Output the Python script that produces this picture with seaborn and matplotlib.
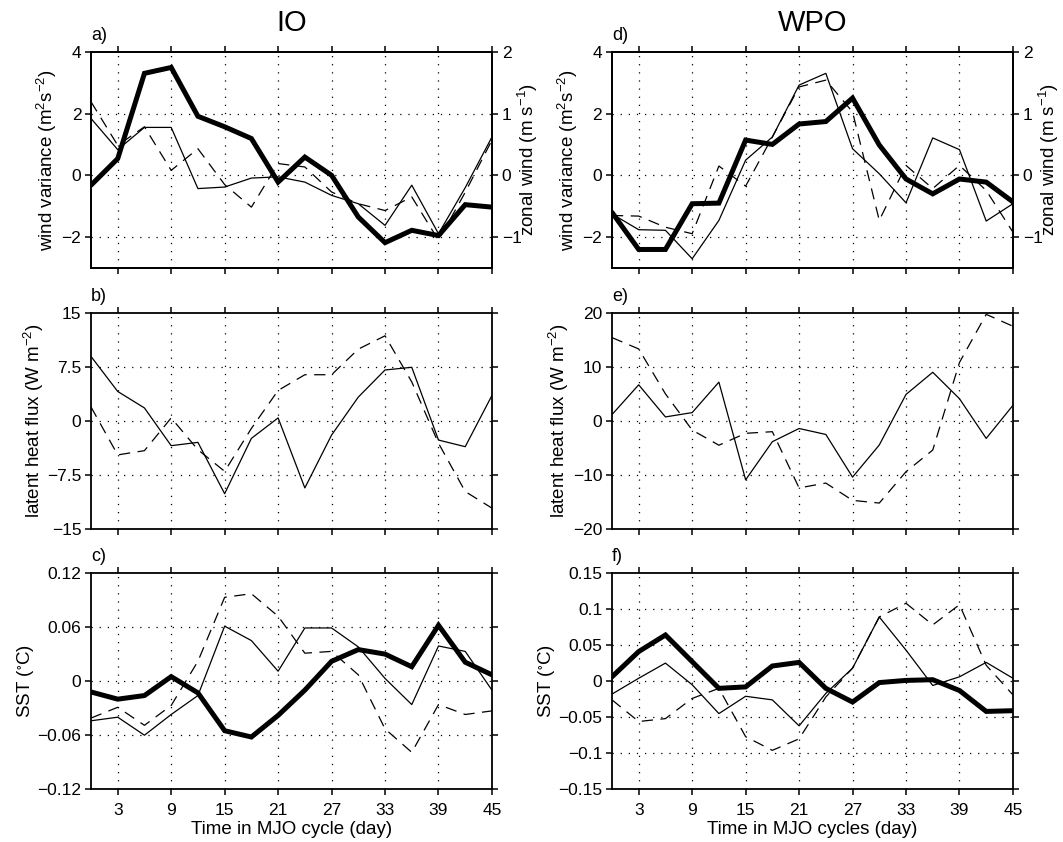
import matplotlib
matplotlib.use("Agg")
import matplotlib.pyplot as plt
import seaborn as sns
import numpy as np

# ---------------- data ----------------
days = [0, 3, 6, 9, 12, 15, 18, 21, 24, 27, 30, 33, 36, 39, 42, 45]

# IO, panel a
io_var_thin = [1.84, 0.83, 1.55, 1.55, -0.43, -0.38, -0.09, -0.05, -0.22, -0.65, -0.92, -1.62, -0.32, -1.89, -0.40, 1.24]
io_var_dash = [2.38, 0.97, 1.57, 0.16, 0.86, -0.30, -1.03, 0.38, 0.27, -0.54, -0.92, -1.14, -0.70, -2.10, -0.55, 1.14]
io_u_thick = [-0.16, 0.27, 1.65, 1.745, 0.955, 0.785, 0.595, -0.11, 0.295, 0.0, -0.675, -1.09, -0.89, -0.975, -0.475, -0.515]

# WPO, panel d
wpo_var_thin = [-1.25, -1.76, -1.78, -2.70, -1.46, 0.49, 1.24, 2.92, 3.30, 0.86, 0.05, -0.89, 1.21, 0.83, -1.48, -0.92]
wpo_var_dash = [-1.30, -1.32, -1.68, -1.89, 0.30, -0.35, 1.24, 2.86, 3.08, 2.05, -1.46, 0.32, -0.43, 0.32, -0.49, -1.84]
wpo_u_thick = [-0.60, -1.20, -1.20, -0.46, -0.45, 0.57, 0.50, 0.83, 0.87, 1.25, 0.49, -0.06, -0.30, -0.06, -0.11, -0.43]

# latent heat flux, panels b and e
io_lhf_thin = [8.94, 4.08, 1.79, -3.44, -2.98, -10.1, -2.43, 0.41, -9.3, -1.97, 3.3, 7.06, 7.43, -2.66, -3.58, 3.53]
io_lhf_dash = [1.93, -4.72, -4.13, 0.41, -4.0, -7.0, -1.05, 4.22, 6.4, 6.4, 9.95, 11.8, 5.4, -3.1, -9.8, -12.1]
wpo_lhf_thin = [1.16, 6.67, 0.73, 1.53, 7.16, -10.9, -3.85, -1.41, -2.51, -10.4, -4.46, 4.89, 8.99, 4.1, -3.24, 2.87]
wpo_lhf_dash = [15.4, 13.3, 5.0, -1.7, -4.5, -2.3, -2.0, -12.4, -11.5, -14.7, -15.2, -9.4, -5.4, 10.8, 19.7, 17.5]

# SST, panels c and f
io_sst_thick = [-0.012, -0.020, -0.016, 0.005, -0.013, -0.055, -0.062, -0.038, -0.010, 0.022, 0.035, 0.030, 0.016, 0.062, 0.021, 0.007]
io_sst_thin = [-0.044, -0.040, -0.060, -0.037, -0.016, 0.061, 0.045, 0.011, 0.059, 0.059, 0.038, 0.003, -0.026, 0.039, 0.033, -0.010]
io_sst_dash = [-0.041, -0.029, -0.049, -0.027, 0.022, 0.093, 0.097, 0.072, 0.031, 0.033, 0.007, -0.053, -0.079, -0.026, -0.037, -0.033]
wpo_sst_thick = [0.006, 0.041, 0.064, 0.027, -0.010, -0.008, 0.021, 0.026, -0.010, -0.029, -0.002, 0.001, 0.002, -0.013, -0.042, -0.041]
wpo_sst_thin = [-0.018, 0.004, 0.025, -0.005, -0.045, -0.021, -0.026, -0.062, -0.017, 0.018, 0.089, 0.043, -0.006, 0.006, 0.026, 0.004]
wpo_sst_dash = [-0.026, -0.056, -0.052, -0.024, -0.010, -0.077, -0.096, -0.080, -0.022, 0.018, 0.089, 0.108, 0.078, 0.106, 0.022, -0.019]

x_ticks = [3, 9, 15, 21, 27, 33, 39, 45]
var_ticks = [-2, 0, 2, 4]
var_labels = ["\u22122", "0", "2", "4"]
u_ticks = [-1, 0, 1, 2]
u_labels = ["\u22121", "0", "1", "2"]
io_lhf_ticks = [-15, -7.5, 0, 7.5, 15]
io_lhf_labels = ["\u221215", "\u22127.5", "0", "7.5", "15"]
wpo_lhf_ticks = [-20, -10, 0, 10, 20]
wpo_lhf_labels = ["\u221220", "\u221210", "0", "10", "20"]
io_sst_ticks = [-0.12, -0.06, 0, 0.06, 0.12]
io_sst_labels = ["\u22120.12", "\u22120.06", "0", "0.06", "0.12"]
wpo_sst_ticks = [-0.15, -0.1, -0.05, 0, 0.05, 0.1, 0.15]
wpo_sst_labels = ["\u22120.15", "\u22120.1", "\u22120.05", "0", "0.05", "0.1", "0.15"]

# ---------------- style ----------------
sns.set_theme(style="white")
plt.rcParams["font.family"] = ["Liberation Sans", "DejaVu Sans"]
plt.rcParams["mathtext.fontset"] = "custom"
plt.rcParams["mathtext.rm"] = "Liberation Sans"
plt.rcParams["mathtext.it"] = "Liberation Sans:italic"
plt.rcParams["mathtext.default"] = "regular"
plt.rcParams["axes.unicode_minus"] = True
for k in ["text.color", "axes.labelcolor", "xtick.color", "ytick.color", "axes.edgecolor"]:
    plt.rcParams[k] = "black"

FS_TICK = 12.5
FS_LAB = 13.5
LW_THICK = 3.6
LW_THIN = 0.9
DASH = (0, (9, 6))
GRID_LS = (0, (1, 5.5))

fig = plt.figure(figsize=(10.63, 8.42), dpi=100)

W = 0.3772
H = 0.2569
lefts = [0.0856, 0.5757]
bottoms = [0.6817, 0.3717, 0.0626]


def style_axis(ax, yticks, ylim, ylabels, show_xlabels=False, right_ticks=True):
    ax.set_xlim(0, 45)
    ax.set_ylim(*ylim)
    ax.set_xticks(x_ticks)
    ax.set_yticks(yticks)
    ax.set_yticklabels(ylabels)
    for s in ax.spines.values():
        s.set_linewidth(1.3)
        s.set_color("black")
    ax.tick_params(axis="both", which="both", direction="out", length=4, width=1.1,
                   colors="black", labelsize=FS_TICK, top=True, bottom=True, left=True,
                   right=right_ticks, labelright=False, labeltop=False,
                   labelbottom=show_xlabels, pad=3)
    ax.tick_params(axis="x", pad=6)
    ax.set_xlabel("")
    ax.set_ylabel("")
    for xv in x_ticks:
        if 0 < xv < 45:
            ax.axvline(xv, color="black", lw=0.9, ls=GRID_LS, zorder=0)
    for yv in yticks:
        if ylim[0] < yv < ylim[1]:
            ax.axhline(yv, color="black", lw=0.9, ls=GRID_LS, zorder=0)


def draw(ax, vals, kind):
    if kind == "thick":
        sns.lineplot(x=days, y=vals, ax=ax, color="black", lw=LW_THICK, errorbar=None,
                     solid_joinstyle="miter")
    elif kind == "thin":
        sns.lineplot(x=days, y=vals, ax=ax, color="black", lw=LW_THIN, errorbar=None)
    else:
        sns.lineplot(x=days, y=vals, ax=ax, color="black", lw=LW_THIN, errorbar=None,
                     linestyle=DASH)


letters = [["a)", "b)", "c)"], ["d)", "e)", "f)"]]
xlabels = ["Time in MJO cycle (day)", "Time in MJO cycles (day)"]
titles = ["IO", "WPO"]

var_data = [(io_var_thin, io_var_dash, io_u_thick), (wpo_var_thin, wpo_var_dash, wpo_u_thick)]
lhf_data = [(io_lhf_thin, io_lhf_dash, io_lhf_ticks, (-15, 15), io_lhf_labels),
            (wpo_lhf_thin, wpo_lhf_dash, wpo_lhf_ticks, (-20, 20), wpo_lhf_labels)]
sst_data = [(io_sst_thick, io_sst_thin, io_sst_dash, io_sst_ticks, (-0.12, 0.12), io_sst_labels),
            (wpo_sst_thick, wpo_sst_thin, wpo_sst_dash, wpo_sst_ticks, (-0.15, 0.15), wpo_sst_labels)]


def letter(ax, s):
    ax.text(0.0, 1.035, s, transform=ax.transAxes, fontsize=13,
            ha="left", va="bottom")


for c in range(2):
    L = lefts[c]
    # ---- top row ----
    ax = fig.add_axes([L, bottoms[0], W, H])
    ax2 = ax.twinx()
    thin, dash, thick = var_data[c]
    draw(ax, thin, "thin")
    draw(ax, dash, "dash")
    draw(ax2, thick, "thick")
    style_axis(ax, var_ticks, (-3, 4), var_labels, right_ticks=False)
    ax2.set_ylim(-1.5, 2)
    ax2.set_yticks(u_ticks)
    ax2.set_yticklabels(u_labels)
    ax2.tick_params(axis="y", direction="out", length=4, width=1.1, labelsize=FS_TICK,
                    colors="black", right=True, labelright=True, left=False, pad=3)
    ax2.set_ylabel("zonal wind (m s$^{-1}$)", fontsize=FS_LAB, labelpad=-4)
    ax2.grid(False)
    for s in ax2.spines.values():
        s.set_linewidth(1.3)
    ax.set_ylabel("wind variance (m$^{2}$s$^{-2}$)", fontsize=FS_LAB, labelpad=2)
    letter(ax, letters[c][0])
    fig.text(L + W / 2, 1 - 23 / 842, titles[c], fontsize=21, ha="center", va="center")

    # ---- middle row ----
    ax = fig.add_axes([L, bottoms[1], W, H])
    thin, dash, ticks, lim, labs = lhf_data[c]
    draw(ax, thin, "thin")
    draw(ax, dash, "dash")
    style_axis(ax, ticks, lim, labs)
    ax.set_ylabel("latent heat flux (W m$^{-2}$)", fontsize=FS_LAB, labelpad=1)
    letter(ax, letters[c][1])

    # ---- bottom row ----
    ax = fig.add_axes([L, bottoms[2], W, H])
    thick, thin, dash, ticks, lim, labs = sst_data[c]
    draw(ax, thin, "thin")
    draw(ax, dash, "dash")
    draw(ax, thick, "thick")
    style_axis(ax, ticks, lim, labs, show_xlabels=True)
    ax.set_ylabel("SST ($^{\\circ}$C)", fontsize=FS_LAB, labelpad=1)
    ax.set_xlabel(xlabels[c], fontsize=FS_LAB, labelpad=2)
    letter(ax, letters[c][2])

fig.savefig("out.png", dpi=100, facecolor="white")
